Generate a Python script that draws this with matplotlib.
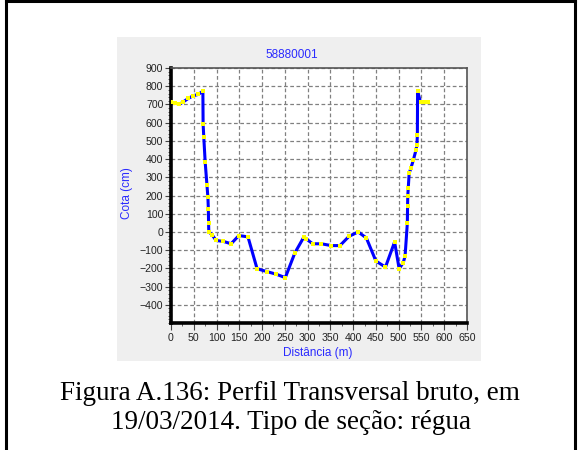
import matplotlib
matplotlib.use("Agg")
import matplotlib.pyplot as plt
from matplotlib.patches import Rectangle
from matplotlib.lines import Line2D
from matplotlib.ticker import MultipleLocator

title = "58880001"
xlabel = "Distância (m)"
ylabel = "Cota (cm)"
caption_lines = ["Figura A.136: Perfil Transversal bruto, em",
                 "19/03/2014. Tipo de seção: régua"]

distancia = [0, 9, 18, 27, 38, 49, 60, 70, 70.5, 72, 75, 79, 81, 82, 82.5, 83,
             90, 99, 115, 132, 149, 169, 189, 211, 231, 251, 272, 292, 297,
             311, 330, 352, 371, 391, 411, 429, 450, 471, 491, 501, 510, 514,
             519, 519.5, 520, 521, 523, 527, 532, 538, 540, 541, 541.5, 548,
             556, 565]
cota = [711, 708, 700, 714, 733, 748, 755, 773, 593, 520, 385, 255, 192, 128,
        50, 0, -15, -47, -52, -65, -20, -27, -202, -218, -232, -251, -115,
        -27, -38, -65, -65, -75, -75, -24, 0, -33, -160, -193, -55, -202,
        -169, -133, 49, 144, 200, 242, 322, 352, 393, 450, 478, 530, 773,
        711, 711, 711]

xticks = list(range(0, 651, 50))
yticks = list(range(-400, 901, 100))

plt.rcParams['font.family'] = ['Liberation Sans', 'DejaVu Sans']

W, H = 580, 450
fig = plt.figure(figsize=(W / 100, H / 100), dpi=100)
fig.patch.set_facecolor('white')

# outer frame
for (x0, y0, x1, y1) in [(6, 1, 6, 450), (6, 1, 575, 1), (575, 1, 575, 450)]:
    fig.add_artist(Line2D([x0 / W, x1 / W], [1 - y0 / H, 1 - y1 / H],
                          color='black', lw=2.2, transform=fig.transFigure))

# gray panel
fig.add_artist(Rectangle((117 / W, 1 - 361 / H), 364 / W, 324 / H,
                         facecolor='#efefef', edgecolor='none',
                         transform=fig.transFigure, zorder=0))

ax = fig.add_axes([171 / W, 1 - 323 / H, 296 / W, 255 / H])
ax.set_facecolor('white')
ax.plot(distancia, cota, color='#0000ff', lw=2.2, zorder=3,
        marker='s', ms=3.2, mfc='#ffff00', mec='#ffff00', mew=0)

ax.set_xlim(0, 650)
ax.set_ylim(-500, 900)
ax.set_xticks(xticks)
ax.set_yticks(yticks)
ax.xaxis.set_minor_locator(MultipleLocator(25))
ax.yaxis.set_minor_locator(MultipleLocator(20))
ax.grid(True, which='major', color='#808080', ls=(0, (3, 2)), lw=0.9)
ax.set_axisbelow(True)

for s in ['left', 'bottom']:
    ax.spines[s].set_linewidth(2.6)
    ax.spines[s].set_color('black')
for s in ['top', 'right']:
    ax.spines[s].set_linewidth(1.2)
    ax.spines[s].set_color('#555555')

ax.tick_params(axis='both', which='major', length=4, width=0.8,
               color='#444444', labelsize=7.6, labelcolor='#222222', pad=1.5)
ax.tick_params(axis='both', which='minor', length=2, width=0.6, color='#444444')
ax.tick_params(axis='x', which='major', length=5, pad=2)

fig.text(292 / W, 1 - 55 / H, title, color='#2a2aff', fontsize=8.5,
         ha='center', va='center')
fig.text(127 / W, 1 - 193 / H, ylabel, color='#2a2aff', fontsize=8.5,
         ha='center', va='center', rotation=90)
fig.text(318 / W, 1 - 353 / H, xlabel, color='#2a2aff', fontsize=8.5,
         ha='center', va='center')

for line, xc, yb in zip(caption_lines, [289.5, 291], [400, 429]):
    fig.text(xc / W, 1 - yb / H, line, family='Liberation Serif',
             fontsize=19.5, ha='center', va='baseline', color='black')

fig.savefig('out.png', dpi=100)
